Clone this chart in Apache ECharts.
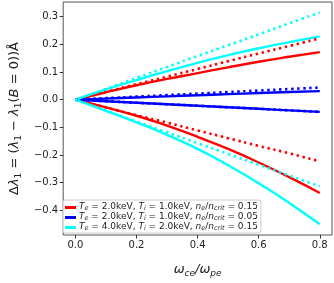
<!DOCTYPE html>
<html>
<head>
<meta charset="utf-8">
<script src="https://cdn.jsdelivr.net/npm/echarts@6/dist/echarts.min.js"></script>
<style>html,body{margin:0;padding:0;background:#fff}#c{width:334px;height:283px}</style>
</head>
<body>
<div id="c"></div>
<script>
// x values (omega_ce / omega_pe)
const xs = [0, 0.1, 0.2, 0.3, 0.4, 0.5, 0.6, 0.7, 0.8];
// Te=2, Ti=1, ne/ncrit=0.15 (red)
const redUpper    = [0, 0.027, 0.052, 0.075, 0.096, 0.117, 0.137, 0.155, 0.172];
const redLower    = [0, -0.028, -0.058, -0.094, -0.134, -0.178, -0.227, -0.280, -0.337];
const redDotUpper = [0, 0.028, 0.056, 0.083, 0.111, 0.139, 0.167, 0.194, 0.222];
const redDotLower = [0, -0.028, -0.056, -0.083, -0.111, -0.139, -0.167, -0.194, -0.223];
// Te=2, Ti=1, ne/ncrit=0.05 (blue)
const blueUpper    = [0, 0.004, 0.008, 0.012, 0.016, 0.020, 0.024, 0.028, 0.031];
const blueLower    = [0, -0.0055, -0.011, -0.0165, -0.022, -0.0275, -0.033, -0.0385, -0.044];
const blueDotUpper = [0, 0.0055, 0.011, 0.0165, 0.022, 0.0275, 0.033, 0.0385, 0.044];
const blueDotLower = [0, -0.0055, -0.011, -0.0165, -0.022, -0.0275, -0.033, -0.0385, -0.044];
// Te=4, Ti=2, ne/ncrit=0.15 (cyan)
const cyanUpper    = [0, 0.037, 0.071, 0.103, 0.133, 0.161, 0.186, 0.208, 0.229];
const cyanLower    = [0, -0.040, -0.082, -0.127, -0.178, -0.237, -0.302, -0.373, -0.450];
const cyanDotUpper = [0, 0.039, 0.079, 0.118, 0.158, 0.197, 0.236, 0.276, 0.315];
const cyanDotLower = [0, -0.039, -0.079, -0.118, -0.157, -0.196, -0.235, -0.274, -0.313];

const xTicks = [0, 0.2, 0.4, 0.6, 0.8];
const yTicks = [-0.4, -0.3, -0.2, -0.1, 0, 0.1, 0.2, 0.3];

const legendNames = [
  'Te=2.0 Ti=1.0 n=0.15',
  'Te=2.0 Ti=1.0 n=0.05',
  'Te=4.0 Ti=2.0 n=0.15'
];
const legendRich = [
  '{i|T}{s|e}{n| = 2.0keV, }{i|T}{s|i}{n| = 1.0keV, }{i|n}{s|e}{n|/}{i|n}{s|crit}{n| = 0.15}',
  '{i|T}{s|e}{n| = 2.0keV, }{i|T}{s|i}{n| = 1.0keV, }{i|n}{s|e}{n|/}{i|n}{s|crit}{n| = 0.05}',
  '{i|T}{s|e}{n| = 4.0keV, }{i|T}{s|i}{n| = 2.0keV, }{i|n}{s|e}{n|/}{i|n}{s|crit}{n| = 0.15}'
];

const pair = arr => xs.map((x, i) => [x, arr[i]]);
const FONT = 'DejaVu Sans';

function line(name, color, arr, dotted) {
  return {
    type: 'line', name: name, data: pair(arr), smooth: true, symbol: 'none',
    lineStyle: dotted
      ? { color: color, width: 2.6, type: [2.4, 3.6], cap: 'butt' }
      : { color: color, width: 2.4 },
    itemStyle: { color: color },
    silent: true, animation: false,
    z: dotted ? 3 : 2
  };
}

const series = [
  line(legendNames[0], '#ff0000', redUpper, false),
  line(legendNames[0], '#ff0000', redLower, false),
  line('rd1', '#ff0000', redDotUpper, true),
  line('rd2', '#ff0000', redDotLower, true),
  line(legendNames[1], '#0000ff', blueUpper, false),
  line(legendNames[1], '#0000ff', blueLower, false),
  line('bd1', '#0000ff', blueDotUpper, true),
  line('bd2', '#0000ff', blueDotLower, true),
  line(legendNames[2], '#00ffff', cyanUpper, false),
  line(legendNames[2], '#00ffff', cyanLower, false),
  line('cd1', '#00ffff', cyanDotUpper, true),
  line('cd2', '#00ffff', cyanDotLower, true)
];

const fmt = v => (v < 0 ? '\u2212' : '') + Math.abs(v).toFixed(1);

function richSet(big, small, drop, italicSub) {
  return {
    n: { fontFamily: FONT, fontSize: big, color: '#222', verticalAlign: 'top', lineHeight: Math.round(big * 1.2) },
    i: { fontFamily: FONT, fontStyle: 'italic', fontSize: big, color: '#222', verticalAlign: 'top', lineHeight: Math.round(big * 1.2) },
    s: { fontFamily: FONT, fontStyle: italicSub ? 'italic' : 'normal', fontSize: small, color: '#222', verticalAlign: 'top', lineHeight: Math.round(small * 1.2), padding: [drop, 0, 0, 0] }
  };
}

const chart = echarts.init(document.getElementById('c'), null, { renderer: 'canvas' });
chart.setOption({
  animation: false,
  backgroundColor: '#fff',
  grid: { left: 62, right: 2, top: 2, bottom: 45, show: true, borderColor: '#555', borderWidth: 1, backgroundColor: 'transparent' },
  xAxis: {
    type: 'value', min: -0.04, max: 0.84,
    axisLine: { show: false, onZero: false },
    splitLine: { show: false },
    axisTick: { show: true, inside: false, length: 3.5, customValues: xTicks, lineStyle: { color: '#333' } },
    axisLabel: { customValues: xTicks, formatter: fmt, color: '#222', fontFamily: FONT, fontSize: 10, margin: 5 },
    name: '{i|ω}{s|ce}{i|/ω}{s|pe}',
    nameLocation: 'middle', nameGap: 28,
    nameTextStyle: { rich: richSet(13, 9, 6, true) }
  },
  yAxis: {
    type: 'value', min: -0.489, max: 0.353,
    axisLine: { show: false, onZero: false },
    splitLine: { show: false },
    axisTick: { show: true, inside: false, length: 3.5, customValues: yTicks, lineStyle: { color: '#333' } },
    axisLabel: { customValues: yTicks, formatter: fmt, color: '#222', fontFamily: FONT, fontSize: 10, margin: 5 },
    name: '{n|Δ}{i|λ}{s|1}{n| = (}{i|λ}{s|1}{n| − }{i|λ}{s|1}{n|(}{i|B}{n| = 0))Å}',
    nameLocation: 'middle', nameGap: 34, nameRotate: 90,
    nameTextStyle: { rich: richSet(13, 9, 6, false) }
  },
  legend: {
    data: legendNames,
    orient: 'vertical',
    left: 63, top: 200,
    padding: [2, 3, 1, 2],
    itemGap: 0,
    itemWidth: 11, itemHeight: 3,
    icon: 'rect',
    backgroundColor: 'rgba(255,255,255,0.85)',
    borderColor: '#ccc', borderWidth: 1, borderRadius: 2,
    formatter: function (name) { return legendRich[legendNames.indexOf(name)]; },
    textStyle: {
      padding: [0, 0, 0, -2],
      rich: richSet(9, 6.5, 3, true)
    }
  },
  series: series
});
</script>
</body>
</html>
